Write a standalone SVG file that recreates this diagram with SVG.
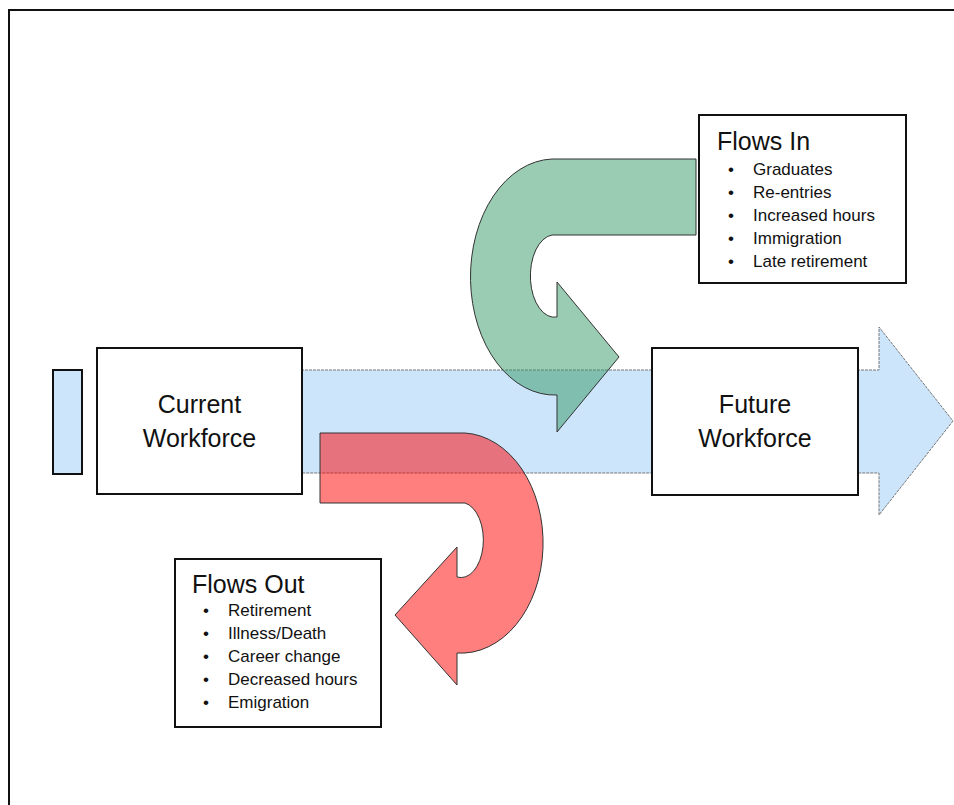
<svg xmlns="http://www.w3.org/2000/svg" width="954" height="805" viewBox="0 0 954 805">
<style>
  .box { fill: #ffffff; stroke: #111; stroke-width: 2; }
  .t { font-family: "Liberation Sans", Arial, sans-serif; fill: #111; }
  .big { font-size: 25px; }
  .item { font-size: 17px; }
  .flow { stroke: #333; stroke-width: 1; opacity: 1; }
</style>
<rect x="0" y="0" width="954" height="805" fill="#ffffff"/>
<rect id="frame" x="9" y="10" width="1000" height="1000" fill="none" stroke="#111" stroke-width="2"/>

<g id="connectors">
  <path id="main-arrow" d="M 97,370 L 879,370 L 879,327 L 953,421 L 879,515 L 879,473 L 97,473 Z" fill="#CDE5FB" stroke="#777" stroke-width="1" stroke-dasharray="3,1"/>
</g>

<g id="tail">
  <rect x="53" y="370" width="29" height="104" fill="#CDE5FB" stroke="#111" stroke-width="2"/>
</g>

<g id="current">
  <rect class="box" x="97" y="348" width="205" height="146"/>
  <text class="t big" x="199.5" y="413" text-anchor="middle">Current</text>
  <text class="t big" x="199.5" y="447" text-anchor="middle">Workforce</text>
</g>

<g id="future">
  <rect class="box" x="652" y="348" width="206" height="147"/>
  <text class="t big" x="755" y="413" text-anchor="middle">Future</text>
  <text class="t big" x="755" y="447" text-anchor="middle">Workforce</text>
</g>

<g id="flows-in-arrow">
  <path class="flow" fill="#339966" fill-opacity="0.5" d="M 696,159 L 552,159 A 84,118 0 0 0 557,395 L 557,432 L 619,357 L 557,282 L 557,317 A 24,41 0 0 1 552,235 L 696,235 Z"/>
</g>

<g id="flows-out-arrow">
  <path class="flow" fill="#FF0000" fill-opacity="0.5" d="M 320,433 L 465,433 A 82,110 0 0 1 457,653 L 457,685 L 395,615 L 457,547 L 457,577 A 22,37 0 0 0 465,503 L 320,503 Z"/>
</g>

<g id="flows-in">
  <rect class="box" x="699" y="115" width="207" height="168"/>
  <text class="t big" x="717" y="150">Flows In</text>
  <g class="t item">
    <text x="728" y="175">•</text><text x="753" y="175">Graduates</text>
    <text x="728" y="198">•</text><text x="753" y="198">Re-entries</text>
    <text x="728" y="221">•</text><text x="753" y="221">Increased hours</text>
    <text x="728" y="244">•</text><text x="753" y="244">Immigration</text>
    <text x="728" y="267">•</text><text x="753" y="267">Late retirement</text>
  </g>
</g>

<g id="flows-out">
  <rect class="box" x="175" y="559" width="206" height="168"/>
  <text class="t big" x="192" y="593">Flows Out</text>
  <g class="t item">
    <text x="203" y="616">•</text><text x="228" y="616">Retirement</text>
    <text x="203" y="639">•</text><text x="228" y="639">Illness/Death</text>
    <text x="203" y="662">•</text><text x="228" y="662">Career change</text>
    <text x="203" y="685">•</text><text x="228" y="685">Decreased hours</text>
    <text x="203" y="708">•</text><text x="228" y="708">Emigration</text>
  </g>
</g>
</svg>
